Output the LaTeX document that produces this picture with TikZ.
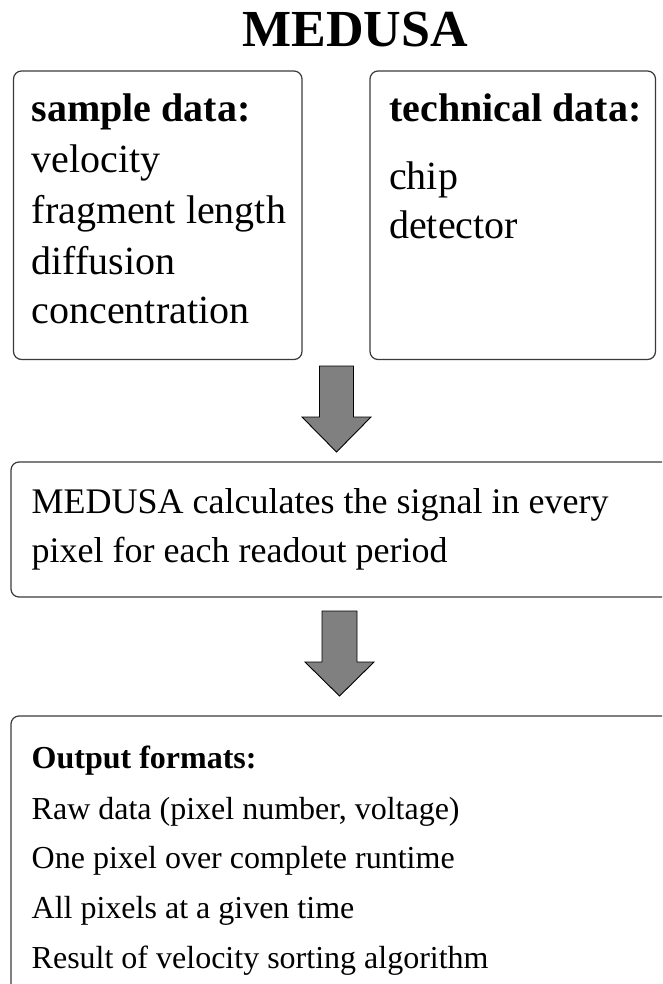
\documentclass[tikz,border=0pt]{standalone}
\usepackage{fontspec}
\setmainfont{Liberation Serif}
\usetikzlibrary{calc}
\definecolor{boxgray}{HTML}{3A3A3A}
\definecolor{arrowfill}{HTML}{808080}
\begin{document}
\begin{tikzpicture}[x=1pt,y=-1pt,
  box/.style={draw=boxgray, line width=1.2pt, rounded corners=8pt, inner sep=0pt, outer sep=0pt, anchor=north west},
  txtA/.style={font=\fontsize{40}{50}\selectfont, anchor=base west, inner sep=0pt},
  txtB/.style={font=\fontsize{36}{45}\selectfont, anchor=base west, inner sep=0pt},
  txtC/.style={font=\fontsize{32}{40}\selectfont, anchor=base west, inner sep=0pt},
  ttl/.style={font=\fontsize{52}{60}\selectfont\bfseries, anchor=base, inner sep=0pt},
  blockarrow/.style={draw=black, line width=0.9pt, fill=arrowfill, line join=miter}]
\useasboundingbox (0,0) rectangle (662,984);
\clip (0,0) rectangle (662,984);

% title
\node[ttl] (t0) at (355,47) {MEDUSA};

% boxes
\node[box, minimum width=288.5pt, minimum height=288.5pt] (b1) at (13.5,71) {};
\node[box, minimum width=285.5pt, minimum height=288.5pt] (b2) at (370,71) {};
\node[box, minimum width=700pt, minimum height=135pt] (b3) at (11,462) {};
\node[box, minimum width=700pt, minimum height=400pt] (b4) at (11,716) {};

% box 1 text
\node[txtA, font=\fontsize{40}{50}\selectfont\bfseries] (s0) at (31.5,122) {sample data:};
\node[txtA] (s1) at (31.5,173) {velocity};
\node[txtA] (s2) at (31.5,224) {fragment length};
\node[txtA] (s3) at (31.5,274) {diffusion};
\node[txtA] (s4) at (31.5,323) {concentration};

% box 2 text
\node[txtA, font=\fontsize{40}{50}\selectfont\bfseries] (c0) at (389,122) {technical data:};
\node[txtA] (c1) at (389,190) {chip};
\node[txtA] (c2) at (389,238) {detector};

% box 3 text
\node[txtB] (m0) at (31.5,513) {MEDUSA calculates the signal in every};
\node[txtB] (m1) at (31.5,562) {pixel for each readout period};

% box 4 text
\node[txtC, font=\fontsize{32}{40}\selectfont\bfseries] (o0) at (31.5,768) {Output formats:};
\node[txtC] (o1) at (31.5,819) {Raw data (pixel number, voltage)};
\node[txtC] (o2) at (31.5,868) {One pixel over complete runtime};
\node[txtC] (o3) at (31.5,918) {All pixels at a given time};
\node[txtC] (o4) at (31.5,968) {Result of velocity sorting algorithm};

% block arrows
\coordinate (a1) at ($($(b1.south east)!0.5!(b2.south west)$)+(0.5,6.5)$);
\coordinate (a2) at ($(b3.south west)+(328.5,14)$);
\draw[blockarrow] ($(a1)+(-17,0)$) -- ++(34,0) -- ++(0,51) -- ++(17.5,0) -- ++(-34.5,35) -- ++(-34.5,-35) -- ++(17.5,0) -- cycle;
\draw[blockarrow] ($(a2)+(-17.5,0)$) -- ++(35,0) -- ++(0,51) -- ++(17,0) -- ++(-34.5,34) -- ++(-34.5,-34) -- ++(17,0) -- cycle;
\end{tikzpicture}
\end{document}
